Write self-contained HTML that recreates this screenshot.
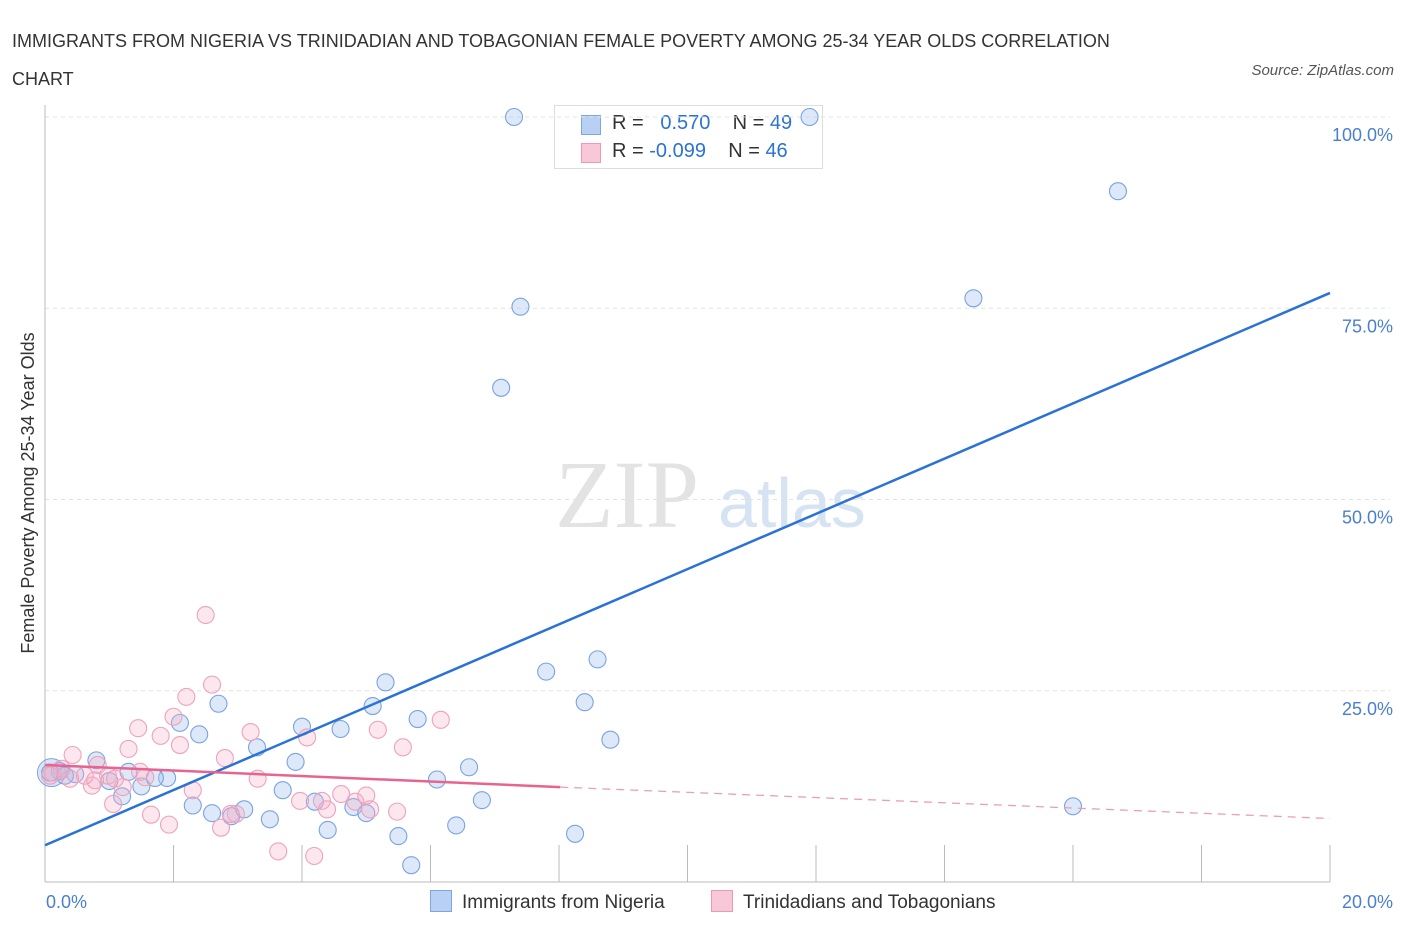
<!DOCTYPE html>
<html><head><meta charset="utf-8"><style>
body{margin:0;background:#fff;font-family:"Liberation Sans",sans-serif;}
#wrap{position:relative;width:1406px;height:930px;overflow:hidden;}
.t{position:absolute;white-space:nowrap;}
</style></head><body>
<div id="wrap">
<div class="t" style="left:12px;top:22px;font-size:18px;color:#333;line-height:38px;">IMMIGRANTS FROM NIGERIA VS TRINIDADIAN AND TOBAGONIAN FEMALE POVERTY AMONG 25-34 YEAR OLDS CORRELATION<br>CHART</div>
<div class="t" style="right:12px;top:62px;font-size:15px;color:#555;font-style:italic;">Source: ZipAtlas.com</div>
<div class="t" style="left:554px;top:105px;width:267px;height:62px;border:1px solid #ddd;background:#fff;font-size:20px;">
 <div style="position:absolute;left:26px;top:9px;width:18px;height:18px;background:#b8d0f3;border:1px solid #7ea6e0;"></div>
 <div style="position:absolute;left:26px;top:37px;width:18px;height:18px;background:#f8c8d8;border:1px solid #ee9ab5;"></div>
 <div class="t" style="left:57px;top:6px;color:#333;">R = &nbsp;&nbsp;<span style="color:#2a72d5">0.570</span>&nbsp;&nbsp;&nbsp; N = <span style="color:#2a72d5">49</span></div>
 <div class="t" style="left:57px;top:34px;color:#333;">R = <span style="color:#2a72d5">-0.099</span>&nbsp;&nbsp;&nbsp; N = <span style="color:#2a72d5">46</span></div>
</div>
<svg id="svg" width="1406" height="930" style="position:absolute;left:0;top:0"></svg>
</div>
<script>
const blueX=[7.3,11.9,16.7,14.45,7.4,7.1,8.6,7.8,8.4,8.8,5.3,2.7,4.0,4.6,5.8,5.1,2.1,2.4,3.3,3.9,6.6,6.1,6.8,16.0,0.8,1.3,1.9,1.5,1.2,2.3,2.6,2.9,3.1,3.5,3.7,4.2,4.4,4.8,5.0,5.5,5.7,6.4,8.25,1.0,0.23,0.08,0.47,0.31,1.71];
const blueY=[100,100,90.3,76.3,75.2,64.6,29.1,27.5,23.5,18.6,26.1,23.3,20.3,20.0,21.3,23.0,20.8,19.3,17.6,15.7,15.0,13.4,10.7,9.9,15.9,14.4,13.6,12.5,11.2,10.0,9.0,8.6,9.5,8.2,12.0,10.5,6.8,9.8,9.0,6.0,2.2,7.4,6.3,13.2,14.5,14.3,14.1,13.9,13.6];
const pinkX=[2.5,2.6,2.2,2.0,1.45,1.8,2.1,1.3,0.43,0.82,3.2,2.8,4.08,5.18,6.16,5.57,3.31,2.3,1.56,0.98,0.73,1.21,1.06,1.65,1.93,2.97,2.74,2.89,3.97,4.31,4.39,4.61,4.83,5.0,5.06,5.48,3.63,4.19,0.12,0.26,0.62,0.39,1.09,0.08,0.78,1.48];
const pinkY=[34.9,25.8,24.2,21.6,20.1,19.1,17.9,17.4,16.6,15.3,19.6,16.2,18.9,19.9,21.2,17.6,13.5,12.0,13.7,13.9,12.6,12.4,10.2,8.8,7.5,8.9,7.1,8.9,10.6,10.6,9.5,11.5,10.5,11.3,9.5,9.2,4.0,3.4,14.3,14.8,13.9,13.5,13.5,13.9,13.3,14.4];
const xTicks=["0.0%","20.0%"];
const yTicks=[25,50,75,100];
const yTickLabels=["25.0%","50.0%","75.0%","100.0%"];
const blueLine=[[0,4.8],[20,77]];
const pinkSolid=[[0,15.3],[8.02,12.4]];
const pinkDash=[[8.02,12.4],[20,8.3]];
const X=v=>45+v*64.25, Y=v=>882-v*7.65;
const svg=document.getElementById('svg');const NS='http://www.w3.org/2000/svg';
function mk(tag,at,parent){const e=document.createElementNS(NS,tag);for(const k in at)e.setAttribute(k,at[k]);(parent||svg).appendChild(e);return e;}
yTicks.forEach((v,i)=>{
 const g=mk('line',{x1:45,x2:1390,y1:Y(v),y2:Y(v),stroke:'#e2e2e2','stroke-dasharray':'4,4'});
 
 
 const t=mk('text',{x:1393,y:Y(v)+24,'text-anchor':'end','font-size':18,fill:'#4a7fd0','font-family':'Liberation Sans'});
 t.textContent=yTickLabels[i];
 
 
});
const ax=mk('line',{x1:45,x2:1330,y1:882,y2:882,stroke:'#bbb'});


const ay=mk('line',{x1:45,x2:45,y1:105,y2:882,stroke:'#bbb'});


for(let i=1;i<=10;i++){const tk=mk('line',{x1:X(i*2),x2:X(i*2),y1:845,y2:882,stroke:'#bbb'});
 
 }
[[0,'start',46],[1,'end',1393]].forEach(([i,a,x])=>{const t=mk('text',{x:x,y:908,'text-anchor':a,'font-size':18,fill:'#4a7fd0','font-family':'Liberation Sans'});t.textContent=xTicks[i];
 
 });
const wm=mk('text',{x:555,y:527,'font-size':96,fill:'#e3e3e3','font-family':'Liberation Serif'});wm.textContent='ZIP';


const wm2=mk('text',{x:718,y:527,'font-size':70,fill:'#d6e3f3','font-family':'Liberation Sans'});wm2.textContent='atlas';


const yt=mk('text',{x:0,y:0,transform:'translate(34,493) rotate(-90)','text-anchor':'middle','font-size':18,fill:'#333','font-family':'Liberation Sans'});yt.textContent='Female Poverty Among 25-34 Year Olds';


const big=mk('circle',{cx:X(0.1),cy:Y(14.3),r:14,fill:'rgba(160,190,235,0.4)',stroke:'#7ea6e0'});


blueX.forEach((x,i)=>{const c=mk('circle',{cx:X(x),cy:Y(blueY[i]),r:8.5,fill:'rgba(170,198,240,0.4)',stroke:'#7aa3e2','stroke-width':1.1});
 
 });
pinkX.forEach((x,i)=>{const c=mk('circle',{cx:X(x),cy:Y(pinkY[i]),r:8.5,fill:'rgba(245,175,200,0.3)',stroke:'#efa2bb','stroke-width':1.1});
 
 });
const bl=mk('line',{x1:X(blueLine[0][0]),y1:Y(blueLine[0][1]),x2:X(blueLine[1][0]),y2:Y(blueLine[1][1]),stroke:'#2a72d5','stroke-width':2.5});


const pl=mk('line',{x1:X(pinkSolid[0][0]),y1:Y(pinkSolid[0][1]),x2:X(pinkSolid[1][0]),y2:Y(pinkSolid[1][1]),stroke:'#e8648e','stroke-width':2.5});


const pd=mk('line',{x1:X(pinkDash[0][0]),y1:Y(pinkDash[0][1]),x2:X(pinkDash[1][0]),y2:Y(pinkDash[1][1]),stroke:'#e8a0b8','stroke-width':1.3,'stroke-dasharray':'8,6'});


</script>
<div class="t" style="left:430px;top:890px;font-size:19px;color:#333;"><span style="display:inline-block;width:20px;height:20px;background:#b8d0f3;border:1px solid #7ea6e0;vertical-align:-4px;margin-right:10px;"></span>Immigrants from Nigeria</div>
<div class="t" style="left:711px;top:890px;font-size:19px;color:#333;"><span style="display:inline-block;width:20px;height:20px;background:#f8c8d8;border:1px solid #ee9ab5;vertical-align:-4px;margin-right:10px;"></span>Trinidadians and Tobagonians</div>
</body></html>
